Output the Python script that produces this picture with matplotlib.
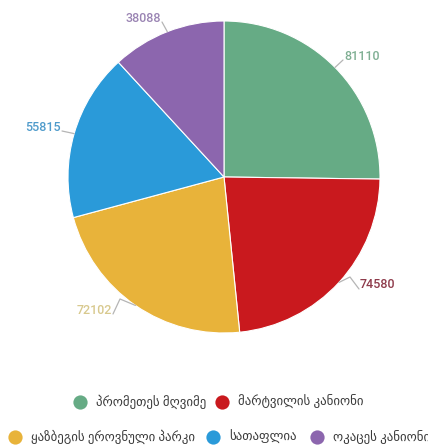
import numpy as np
import matplotlib
matplotlib.use("Agg")
import matplotlib.pyplot as plt

labels = ["პრომეთეს მღვიმე", "მარტვილის კანიონი", "ყაზბეგის ეროვნული პარკი", "სათაფლია", "ოკაცეს კანიონი"]
values = [81110, 74580, 72102, 55815, 38088]
colors = ["#66AB85", "#C9191E", "#E8B33A", "#2A9AD9", "#8C66AE"]
label_colors = ["#7FAF93", "#8E3B4B", "#D8C98E", "#4F9BCB", "#9A84B3"]

W, H = 428, 448
fig = plt.figure(figsize=(W / 100, H / 100), dpi=100)
ax = fig.add_axes([0, 0, 1, 1])
ax.set_xlim(0, W)
ax.set_ylim(0, H)
ax.set_aspect("equal")
ax.axis("off")

cx, cy, R = 224, 271, 156
wedges, _ = ax.pie(values, colors=colors, startangle=90, counterclock=False,
                   center=(cx, cy), radius=R, frame=True,
                   wedgeprops=dict(edgecolor="#FFFFFF", linewidth=0.8))
ax.set_xlim(0, W)
ax.set_ylim(0, H)
ax.axis("off")

# label layout: text anchor positions (pixel layout), alignment, optional kink
text_pos = [(343, 392, "left"), (359, 163, "left"), (113, 138, "right"), (62, 321, "right"), (162, 430, "right")]
kinks = [None, (350, 171), (120, 149), None, None]
for w, v, lc, (tx, ty, ha), kink in zip(wedges, values, label_colors, text_pos, kinks):
    ang = np.deg2rad((w.theta1 + w.theta2) / 2)
    ex, ey = cx + R * np.cos(ang), cy + R * np.sin(ang)
    end = (tx, ty - 4)
    pts = [(ex, ey)] + ([kink] if kink else []) + [end]
    xs, ys = zip(*pts)
    ax.plot(xs, ys, color="#B5B5B5", lw=0.9, solid_capstyle="round")
    ax.text(tx + (1 if ha == "left" else -1), ty, str(v), ha=ha, va="center",
            fontsize=9, color=lc, fontweight="medium", family=["Roboto", "DejaVu Sans"])

# legend (two centred rows)
rows = [[0, 1], [2, 3, 4]]
row_y = [448 - 402, 448 - 437]
marker_x = [[80, 222], [15, 213, 317]]
for r, idxs in enumerate(rows):
    for j, i in enumerate(idxs):
        mx = marker_x[r][j]
        ax.scatter([mx], [row_y[r]], s=105, color=colors[i], zorder=5, linewidths=0)
        ax.text(mx + 16, row_y[r], labels[i], ha="left", va="center", fontsize=9.3,
                color="#3A3A3A", family=["Roboto", "DejaVu Sans"])

fig.savefig("out.png", dpi=100, facecolor="white")
